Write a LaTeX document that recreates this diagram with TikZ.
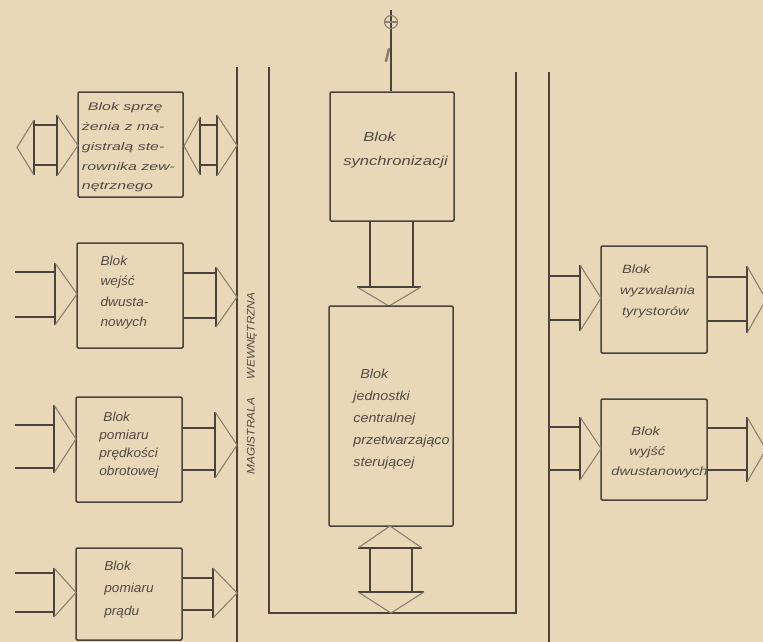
\documentclass[tikz,border=0pt]{standalone}
\usepackage{fontspec}
\newfontfamily\fA[FakeStretch=1.05]{Liberation Sans}
\newfontfamily\fTL[FakeStretch=1.45]{Liberation Sans}
\newfontfamily\fSy[FakeStretch=1.28]{Liberation Sans}
\newfontfamily\fCPU[FakeStretch=1.1]{Liberation Sans}
\newfontfamily\fR[FakeStretch=1.22]{Liberation Sans}
\newfontfamily\fM[FakeStretch=1.08]{Liberation Sans}
\definecolor{bg}{HTML}{E9D8B8}
\definecolor{ink}{HTML}{4A433B}
\definecolor{inkl}{HTML}{8A8070}
\definecolor{txtc}{HTML}{524A42}
\newcommand\hdR[4]{% bar x, y1, y2, tip x  (rightward / leftward horizontal head)
  \draw[hbar] (#1,#2) -- (#1,#3);
  \draw[hdiag] (#1,#2) -- (#4,{(#2+#3)/2}) -- (#1,#3);}
\newcommand\hdV[4]{% bar y, x1, x2, tip y  (vertical head)
  \draw[hbar] (#2,#1) -- (#3,#1);
  \draw[hdiag] (#2,#1) -- ({(#2+#3)/2},#4) -- (#3,#1);}
\begin{document}
\begin{tikzpicture}[x=1pt,y=-1pt,
  blk/.style={draw=ink, line width=1.5pt, rounded corners=1.2pt, inner sep=0pt},
  ln/.style={draw=ink, line width=1.3pt},
  hbar/.style={draw=ink, line width=1.2pt},
  hdiag/.style={draw=inkl, line width=1.1pt, line join=miter},
  txt/.style={text=txtc, inner sep=0pt, align=left}]
\fill[bg] (0,0) rectangle (763,642);
\useasboundingbox (0,0) rectangle (763,642);

% ---------- buses ----------
\draw[ln] (237,67) -- (237,642);
\draw[ln] (269,67) -- (269,613) -- (516,613) -- (516,72);
\draw[ln] (549,72) -- (549,642);
\node[txt, rotate=90, font=\fM\itshape\fontsize{11}{13}\selectfont] (mag) at (252,383.5) {MAGISTRALA\hspace*{1.7em}WEWNĘTRZNA};

% ---------- left blocks ----------
\node[blk, minimum width=105pt, minimum height=105pt] (b1) at (130.5,144.5) {};
\node[txt, font=\fTL\itshape\fontsize{11}{19.7}\selectfont] (t1) at (128.5,147.5)
  {\hspace*{6pt}Blok sprzę\\żenia z ma-\\gistralą ste-\\rownika zew-\\nętrznego};
\node[blk, minimum width=106pt, minimum height=105pt] (b2) at (130,295.5) {};
\node[txt, font=\fA\itshape\fontsize{13}{20.5}\selectfont] (t2) at (124.5,292.5)
  {Blok\\wejść\\dwusta-\\nowych};
\node[blk, minimum width=106pt, minimum height=105pt] (b3) at (129,449.5) {};
\node[txt, font=\fA\itshape\fontsize{13}{18}\selectfont] (t3) at (129,445)
  {\hspace*{4pt}Blok\\pomiaru\\prędkości\\obrotowej};
\node[blk, minimum width=106pt, minimum height=92pt] (b4) at (129,594) {};
\node[txt, font=\fA\itshape\fontsize{13}{22.5}\selectfont] (t4) at (129,589.5)
  {Blok\\pomiaru\\prądu};

% block 1 double arrows
\hdR{34}{120}{175}{17}
\draw[hbar] (34,125) -- (57,125) (34,165) -- (57,165);
\hdR{57}{115}{176}{78}
\hdR{200}{117}{175}{184}
\draw[hbar] (200,125) -- (217,125) (200,165) -- (217,165);
\hdR{217}{115}{176}{237}
% block 2
\draw[hbar] (15,272) -- (55,272) (15,317) -- (55,317);
\hdR{55}{263}{325}{77}
\draw[hbar] (183,273) -- (216,273) (183,318) -- (216,318);
\hdR{216}{267}{327}{237}
% block 3
\draw[hbar] (15,425) -- (54,425) (15,468) -- (54,468);
\hdR{54}{405}{473}{76}
\draw[hbar] (182,428) -- (215,428) (182,470) -- (215,470);
\hdR{215}{412}{478}{237}
% block 4
\draw[hbar] (15,573) -- (54,573) (15,612) -- (54,612);
\hdR{54}{568}{617}{76}
\draw[hbar] (182,578) -- (213,578) (182,610) -- (213,610);
\hdR{213}{568}{618}{237}

% ---------- centre ----------
\node[blk, minimum width=124pt, minimum height=129pt] (sy) at (392,156.5) {};
\node[txt, font=\fSy\itshape\fontsize{13}{24}\selectfont] (tsy) at (395.5,150)
  {\hspace*{20pt}Blok\\synchronizacji};
\coordinate (top) at (391,10);
\draw[ln, line width=1.1pt] (top) -- (sy.north -| top);
\draw[inkl, line width=1.1pt] (391,22) circle (6.5pt);
\draw[inkl, line width=1.1pt] (384.5,22) -- (397.5,22);
\draw[inkl, line width=2.6pt, line cap=round] (389,49) -- (386,61);

\draw[hbar] (370,221) -- (370,287) (413,221) -- (413,287);
\hdV{287}{357}{421}{306}
\node[blk, minimum width=124pt, minimum height=220pt] (cpu) at (391,416) {};
\node[txt, font=\fCPU\itshape\fontsize{13}{22}\selectfont] (tcpu) at (401.5,419)
  {\hspace*{7pt}Blok\\jednostki\\centralnej\\przetwarzająco\\sterującej};
\hdV{548}{358}{422}{526}
\draw[hbar] (370,548) -- (370,592) (412,548) -- (412,592);
\hdV{592}{358}{424}{613}

% ---------- right blocks ----------
\node[blk, minimum width=106pt, minimum height=107pt] (r1) at (654,299.5) {};
\node[txt, font=\fR\itshape\fontsize{12}{21}\selectfont] (tr1) at (657.5,291)
  {\hspace*{2pt}Blok\\wyzwalania\\\hspace*{2pt}tyrystorów};
\node[blk, minimum width=106pt, minimum height=101pt] (r2) at (654,449.5) {};
\node[txt, font=\fR\itshape\fontsize{12}{20}\selectfont] (tr2) at (659.5,452)
  {\hspace*{20pt}Blok\\\hspace*{18pt}wyjść\\dwustanowych};

\draw[hbar] (549,276) -- (580,276) (549,320) -- (580,320);
\hdR{580}{265}{331}{601}
\draw[hbar] (707,277) -- (747,277) (707,321) -- (747,321);
\hdR{747}{266}{333}{766}
\draw[hbar] (549,427) -- (580,427) (549,470) -- (580,470);
\hdR{580}{417}{480}{601}
\draw[hbar] (707,428) -- (747,428) (707,470) -- (747,470);
\hdR{747}{417}{482}{766}
\end{tikzpicture}
\end{document}
